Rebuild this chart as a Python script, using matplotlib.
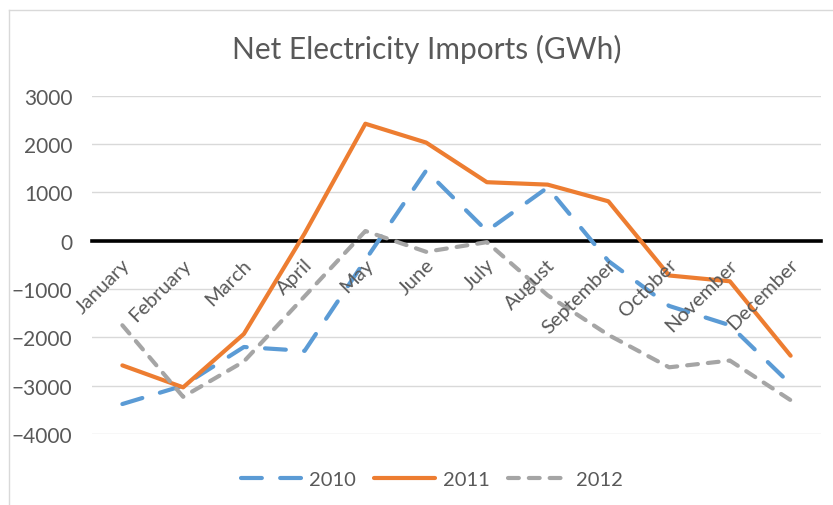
import numpy as np
import matplotlib
matplotlib.use("Agg")
import matplotlib.pyplot as plt
from matplotlib.lines import Line2D

months = ['January', 'February', 'March', 'April', 'May', 'June', 'July',
          'August', 'September', 'October', 'November', 'December']
imports_2010 = [-3380, -3000, -2200, -2280, -400, 1450, 200, 1100, -420, -1350, -1750, -2970]
imports_2011 = [-2580, -3035, -1930, 150, 2420, 2030, 1210, 1160, 815, -720, -840, -2380]
imports_2012 = [-1750, -3230, -2500, -1150, 200, -230, -30, -1130, -1950, -2620, -2480, -3300]
yticks = [-4000, -3000, -2000, -1000, 0, 1000, 2000, 3000]

txt = '#595959'
plt.rcParams['font.family'] = ['Lato', 'DejaVu Sans']

fig = plt.figure(figsize=(8.33, 5.06), dpi=100)
ax = fig.add_axes([92/833, 1-435/506, (821-92)/833, (435-96.7)/506])

x = np.arange(len(months))
ax.plot(x, imports_2010, color='#5B9BD5', lw=3, dashes=(5.0, 4.4),
        dash_capstyle='round', label='2010', zorder=3)
ax.plot(x, imports_2011, color='#ED7D31', lw=3, solid_capstyle='round',
        label='2011', zorder=3)
ax.plot(x, imports_2012, color='#A5A5A5', lw=3, dashes=(2.6, 2.4),
        dash_capstyle='round', label='2012', zorder=3)

ax.set_xlim(-0.5, 11.5)
ax.set_ylim(-4000, 3000)
ax.set_yticks(yticks)
ax.yaxis.grid(True, color='#d9d9d9', lw=1)
ax.set_axisbelow(True)
for s in ['top', 'right', 'left']:
    ax.spines[s].set_visible(False)
ax.spines['bottom'].set_position(('data', 0))
ax.spines['bottom'].set_color('black')
ax.spines['bottom'].set_linewidth(2.6)
ax.spines['bottom'].set_zorder(2)

# month labels sit under the zero line, rotated like Excel does it
ax.set_xticks(x)
ax.set_xticklabels([])
ax.tick_params(axis='x', length=0)
for i, m in enumerate(months):
    ax.annotate(m, (i, 0), xytext=(3.5, -15), textcoords='offset points',
                rotation=45, ha='right', va='center', rotation_mode='anchor',
                fontsize=14.5, color=txt)
ax.tick_params(axis='y', length=0, pad=14, labelsize=15, labelcolor=txt)

fig.text(427/833, 1-59/506, 'Net Electricity Imports (GWh)', ha='center',
         va='baseline', fontsize=21.5, color=txt)

ax.legend(loc='center', bbox_to_anchor=(432/833, 1-480/506),
          bbox_transform=fig.transFigure, ncol=3, frameon=False,
          fontsize=14.5, labelcolor=txt, handlelength=3.0, columnspacing=0.9,
          handletextpad=0.4)

fig.add_artist(Line2D([8.5/833, 8.5/833], [0, 1-11/506], color='#d9d9d9', lw=1))
fig.add_artist(Line2D([8.5/833, 1], [1-11/506, 1-11/506], color='#d9d9d9', lw=1))

fig.savefig('out.png', dpi=100)
